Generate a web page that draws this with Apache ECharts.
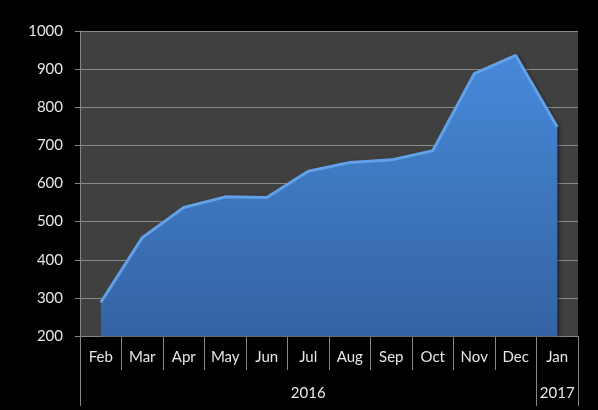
<!DOCTYPE html>
<html><head><meta charset="utf-8">
<script src="https://cdn.jsdelivr.net/npm/echarts@6/dist/echarts.min.js"></script>
<style>html,body{margin:0;padding:0;background:#000}#c{width:598px;height:410px}</style>
</head><body><div id="c"></div>
<script>
const months = ['Feb','Mar','Apr','May','Jun','Jul','Aug','Sep','Oct','Nov','Dec','Jan'];
const years = ['','','','','','2016','','','','','','2017'];
const values = [288, 458, 537, 565, 563, 632, 655, 662, 686, 888, 936, 748];
const yTicks = {min: 200, max: 1000, interval: 100};

const chart = echarts.init(document.getElementById('c'));
const font = 'Lato, "Open Sans", sans-serif';
chart.setOption({
  backgroundColor: '#000',
  animation: false,
  grid: {left: 80, top: 31, right: 20, bottom: 74, show: true, backgroundColor: '#404040', borderWidth: 0},
  xAxis: [{
    type: 'category', data: months, position: 'bottom', boundaryGap: true,
    axisLine: {show: true, lineStyle: {color: '#868686', width: 1}},
    axisTick: {show: true, interval: 0, length: 34, lineStyle: {color: '#868686'}},
    axisLabel: {color: '#e6e6e6', fontFamily: font, fontSize: 15, margin: 14, interval: 0},
    splitLine: {show: false}
  }, {
    type: 'category', data: years, position: 'bottom', boundaryGap: true,
    axisLine: {show: false},
    axisTick: {show: true, length: 70, lineStyle: {color: '#868686'},
      interval: function (i) { return i === 0 || i === 11; }},
    axisLabel: {color: '#e6e6e6', fontFamily: font, fontSize: 15, margin: 50, interval: 0},
    splitLine: {show: false}
  }],
  yAxis: {
    type: 'value', min: yTicks.min, max: yTicks.max, interval: yTicks.interval,
    axisLine: {show: true, lineStyle: {color: '#868686'}},
    axisTick: {show: true, length: 5, lineStyle: {color: '#868686'}},
    axisLabel: {color: '#e6e6e6', fontFamily: font, fontSize: 15, margin: 17,
      formatter: function (v) { return String(v); }},
    splitLine: {show: true, lineStyle: {color: '#8a8a8a', width: 1}}
  },
  series: [{
    type: 'line', data: values, xAxisIndex: 0, symbol: 'none',
    lineStyle: {color: '#62a0e8', width: 3},
    areaStyle: {
      opacity: 1,
      color: new echarts.graphic.LinearGradient(0, 0, 0, 1, [
        {offset: 0, color: '#4689d9'},
        {offset: 1, color: '#3463a3'}
      ]),
      shadowColor: 'rgba(0,0,0,0.5)', shadowBlur: 4, shadowOffsetX: 2, shadowOffsetY: 0
    }
  }]
});
</script></body></html>
